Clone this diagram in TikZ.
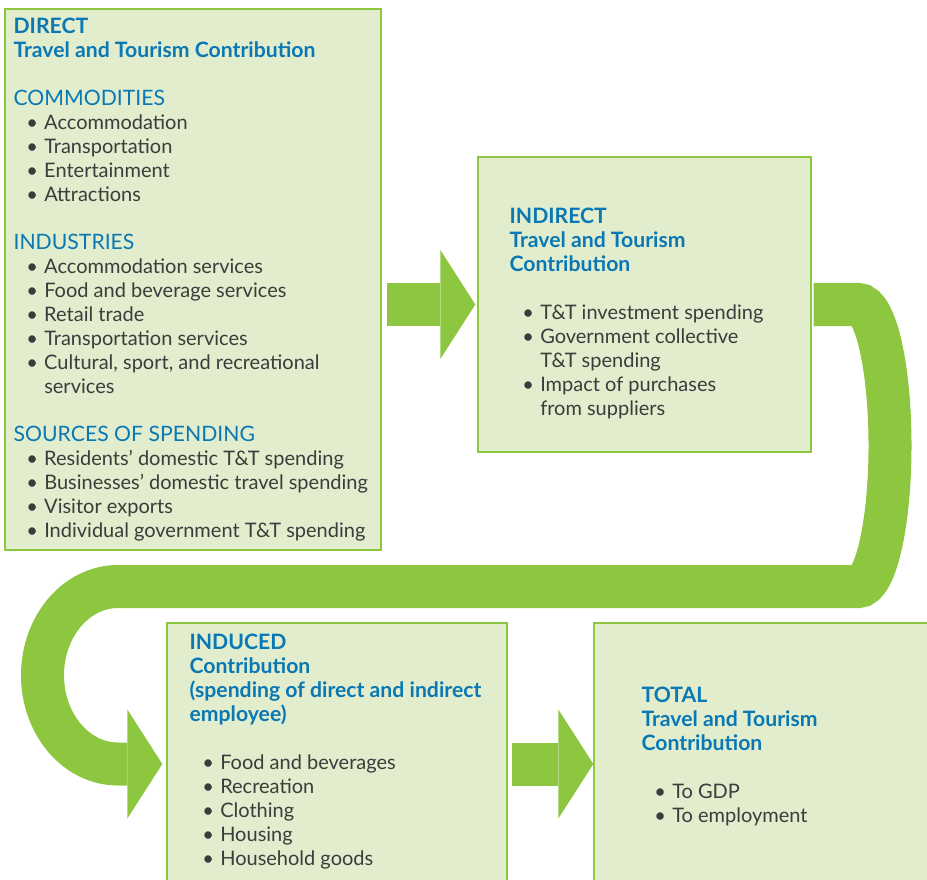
\documentclass[tikz,border=0pt]{standalone}
\usepackage{fontspec}
\setmainfont{Lato}
\usepackage{xcolor}
\usepackage{tikz}
\usetikzlibrary{arrows.meta,positioning,calc}

\definecolor{boxfill}{HTML}{E1EDCC}
\definecolor{flowgreen}{HTML}{8DC63F}
\definecolor{titleblue}{HTML}{0A78B4}
\definecolor{bodygray}{HTML}{3C3C3C}

\newcommand{\hdr}[1]{{\fontsize{15.9}{18}\selectfont\color{titleblue}\bfseries #1}}
\newcommand{\grp}[1]{{\fontsize{15.9}{18}\selectfont\color{titleblue}#1}}
\newcommand{\itm}{\makebox[23pt][l]{\hspace*{9.5pt}\textbullet}}
\newcommand{\cnt}{\hspace*{23pt}}

\begin{document}
\begin{tikzpicture}[
  x=0.75pt, y=-0.75pt,
  font=\fontsize{15}{18}\selectfont,
  stage/.style={
    rectangle, draw=flowgreen, line width=1pt,
    fill=boxfill, inner sep=0pt
  },
  txt/.style={anchor=north west, align=left, inner sep=0pt, text=bodygray},
  flow/.style={
    draw=flowgreen, line width=32.25pt,
    -{Triangle[length=26.25pt, width=81.75pt, line width=0pt]}
  }
]
\useasboundingbox (0,0) rectangle (927,880);

\node[stage, minimum width=282pt, minimum height=405.75pt] (direct) at (193,279.5) {};
\node[stage, minimum width=249.75pt, minimum height=221.25pt] (indirect) at (644.5,304.5) {};
\node[stage, minimum width=255pt, minimum height=211.5pt] (induced) at (337,764) {};
\node[stage, minimum width=274.5pt, minimum height=211.5pt] (total) at (777,764) {};

\node[txt] (directtxt) at ([shift={(9,9.5)}]direct.north west) {%
  \hdr{DIRECT}\\
  \hdr{Travel and Tourism Contribution}\\[18pt]
  \grp{COMMODITIES}\\
  \itm Accommodation\\
  \itm Transportation\\
  \itm Entertainment\\
  \itm Attractions\\[18pt]
  \grp{INDUSTRIES}\\
  \itm Accommodation services\\
  \itm Food and beverage services\\
  \itm Retail trade\\
  \itm Transportation services\\
  \itm Cultural, sport, and recreational\\
  \cnt services\\[18pt]
  \grp{SOURCES OF SPENDING}\\
  \itm Residents' domestic T\&T spending\\
  \itm Businesses' domestic travel spending\\
  \itm Visitor exports\\
  \itm Individual government T\&T spending%
};

\node[txt] (indirecttxt) at ([shift={(32,51)}]indirect.north west) {%
  \hdr{INDIRECT}\\
  \hdr{Travel and Tourism}\\
  \hdr{Contribution}\\[18pt]
  \itm T\&T investment spending\\
  \itm Government collective\\
  \cnt T\&T spending\\
  \itm Impact of purchases\\
  \cnt from suppliers%
};

\node[txt] (inducedtxt) at ([shift={(23,11.5)}]induced.north west) {%
  \hdr{INDUCED}\\
  \hdr{Contribution}\\
  \hdr{(spending of direct and indirect}\\
  \hdr{employee)}\\[18pt]
  \itm Food and beverages\\
  \itm Recreation\\
  \itm Clothing\\
  \itm Housing\\
  \itm Household goods%
};

\node[txt] (totaltxt) at ([shift={(48,64)}]total.north west) {%
  \hdr{TOTAL}\\
  \hdr{Travel and Tourism}\\
  \hdr{Contribution}\\[18pt]
  \itm To GDP\\
  \itm To employment%
};

\draw[flow, shorten <=3.75pt, shorten >=1.5pt] (direct.east |- indirect.west) -- (indirect.west);
\draw[flow, shorten <=1.5pt, shorten >=3pt] (indirect.east) -- (858,304.5)
  .. controls (875.7,304.5) and (890,367.6) .. (890,445.5)
  .. controls (890,523.4) and (875.7,586.5) .. (858,586.5)
  -- (118,586.5)
  .. controls (76.3,586.5) and (42.5,626.2) .. (42.5,675.25)
  .. controls (42.5,724.3) and (76.3,764) .. (118,764)
  -- (induced.west);
\draw[flow, shorten <=3pt] (induced.east) -- (total.west);
\end{tikzpicture}
\end{document}
